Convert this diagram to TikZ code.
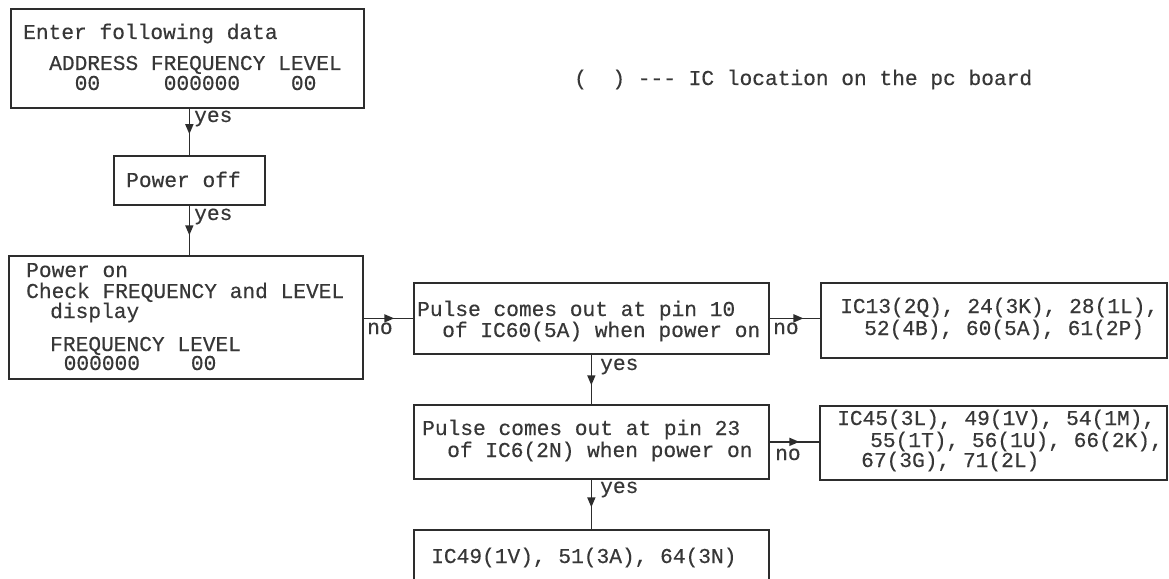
\documentclass[tikz,border=0pt]{standalone}
\usepackage{fontspec}
\newfontfamily\tw[FakeBold=0.35]{Liberation Mono}
\usetikzlibrary{arrows.meta,decorations.markings}
\frenchspacing
\definecolor{ink}{RGB}{45,45,45}
\definecolor{txtc}{RGB}{55,55,55}
\tikzset{
  box/.style={draw=ink, line width=1.7pt, anchor=north west, inner sep=0pt, fill=none},
  txt/.style={anchor=base west, inner sep=0pt, text=txtc, font=\tw\fontsize{21.2}{24}\selectfont},
  lbl/.style={anchor=base west, inner sep=0pt, text=txtc, font=\tw\fontsize{21.2}{24}\selectfont},
  flow/.style={draw=ink, line width=1.6pt, postaction={decorate},
    decoration={markings, mark=at position #1 with {\arrow{Triangle[length=10pt,width=8pt]}}}}
}
\begin{document}
\begin{tikzpicture}[x=1pt,y=-1pt]
\path[use as bounding box] (0,0) rectangle (1169,578);
\clip (0,0) rectangle (1169,578);
\fill[white] (0,0) rectangle (1169,578);

% boxes
\node[box, minimum width=353pt, minimum height=99pt] (b1) at (10,8) {};
\node[box, minimum width=151pt, minimum height=49pt] (poff) at (113,155) {};
\node[box, minimum width=354pt, minimum height=123pt] (pon) at (8,255) {};
\node[box, minimum width=355pt, minimum height=71pt] (p1) at (413,282) {};
\node[box, minimum width=346pt, minimum height=75pt] (r1) at (820,282) {};
\node[box, minimum width=355pt, minimum height=74pt] (p2) at (413,404) {};
\node[box, minimum width=347pt, minimum height=74pt] (r2) at (819,405) {};
\node[box, minimum width=355pt, minimum height=70pt] (bot) at (413,529) {};

% texts
\node[txt] (t1a) at (23,39) {Enter following data};
\node[txt] (t1b) at (49,70) {ADDRESS FREQUENCY LEVEL};
\node[txt] (t1c) at (74.5,90) {00\ \ \ \ \ 000000\ \ \ \ 00};
\node[txt] (t2) at (126,187) {Power off};
\node[txt] (t3a) at (26,277) {Power on};
\node[txt] (t3b) at (26,298) {Check FREQUENCY and LEVEL};
\node[txt] (t3c) at (50,318) {display};
\node[txt] (t3d) at (50,351) {FREQUENCY LEVEL};
\node[txt] (t3e) at (63.5,370) {000000\ \ \ \ 00};
\node[txt] (t4a) at (417,316) {Pulse comes out at pin 10};
\node[txt] (t4b) at (442,337) {of IC60(5A) when power on};
\node[txt] (t5a) at (840,313) {IC13(2Q), 24(3K), 28(1L),};
\node[txt] (t5b) at (864,335) {52(4B), 60(5A), 61(2P)};
\node[txt] (t6a) at (422,435) {Pulse comes out at pin 23};
\node[txt] (t6b) at (447,457) {of IC6(2N) when power on};
\node[txt] (t7a) at (837,425) {IC45(3L), 49(1V), 54(1M),};
\node[txt] (t7b) at (870,447) {55(1T), 56(1U), 66(2K),};
\node[txt] (t7c) at (861,467) {67(3G), 71(2L)};
\node[txt] (t8) at (431,563) {IC49(1V), 51(3A), 64(3N)};
\node[txt] (leg) at (574,85) {(\ \ ) --- IC location on the pc board};

% connectors
\draw[flow=0.55] (poff.north |- b1.south) -- (poff.north);
\draw[flow=0.6] (poff.south) -- (poff.south |- pon.north);
\draw[flow=0.62] (pon.east |- p1.west) -- (p1.west);
\draw[flow=0.67] (p1.east) -- (p1.east -| r1.west);
\draw[flow=0.62] (p1.south) -- (p1.south |- p2.north);
\draw[flow=0.6] (p2.east) -- (p2.east -| r2.west);
\draw[flow=0.56] (p2.south) -- (p2.south |- bot.north);

% connector labels
\node[lbl] (y1) at (194,122) {yes};
\node[lbl] (y2) at (194,220) {yes};
\node[lbl] (y3) at (600,370) {yes};
\node[lbl] (y4) at (600,493) {yes};
\node[lbl] (n1) at (367,334) {no};
\node[lbl] (n2) at (773,334) {no};
\node[lbl] (n3) at (775,460) {no};
\end{tikzpicture}
\end{document}
